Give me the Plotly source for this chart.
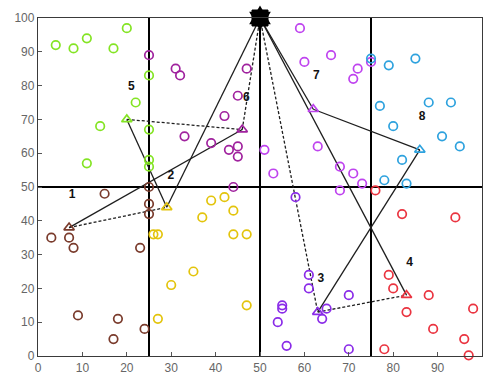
import plotly.graph_objects as go

# Sensor nodes per cluster (x, y)
c1_x = [15, 25, 25, 25, 3, 7, 8, 23, 9, 18, 24, 17]
c1_y = [48, 50, 45, 42, 35, 35, 32, 32, 12, 11, 8, 5]
c2_x = [39, 42, 44, 37, 26, 27, 44, 47, 35, 30, 47, 27]
c2_y = [46, 47, 43, 41, 36, 36, 36, 36, 25, 21, 15, 11]
c3_x = [58, 61, 61, 70, 55, 55, 65, 64, 54, 56, 70]
c3_y = [47, 24, 20, 18, 15, 14, 14, 11, 10, 3, 2]
c4_x = [76, 82, 94, 79, 80, 88, 83, 98, 89, 96, 78, 97]
c4_y = [49, 42, 41, 24, 20, 18, 13, 14, 8, 5, 2, 0.2]
c5_x = [4, 8, 11, 17, 20, 25, 22, 14, 11, 25, 25, 25]
c5_y = [92, 91, 94, 91, 97, 83, 75, 68, 57, 67, 58, 56]
c6_x = [25, 31, 32, 47, 45, 42, 33, 39, 43, 45, 45, 44]
c6_y = [89, 85, 83, 85, 77, 71, 65, 63, 61, 62, 59, 50]
c7_x = [59, 60, 66, 72, 71, 75, 51, 53, 63, 68, 71, 73, 68]
c7_y = [97, 87, 89, 85, 82, 87, 61, 54, 62, 56, 54, 51, 49]
c8_x = [75, 79, 85, 77, 88, 93, 80, 91, 95, 82, 78, 83]
c8_y = [88, 86, 88, 74, 75, 75, 68, 65, 62, 58, 52, 51]

# Cluster heads 1..8
head_x = [7, 29, 63, 83, 20, 46, 62, 86]
head_y = [38, 44, 13, 18, 70, 67, 73, 61]
label_x = [7.7, 29.9, 63.7, 83.7, 21.0, 46.9, 62.7, 86.5]
label_y = [47.6, 53.3, 22.7, 27.6, 79.5, 76.4, 82.7, 70.8]
labels = ["1", "2", "3", "4", "5", "6", "7", "8"]

# Base station
sink_x = [50]
sink_y = [100]

# Routing links: (from, to, dashed); 0 = sink, 1..8 = cluster heads
links = [
    (0, 2, False), (0, 6, True), (0, 7, False), (0, 3, True), (0, 4, False),
    (1, 2, True), (1, 6, False), (5, 6, True), (5, 2, False),
    (7, 8, False), (8, 3, False), (3, 4, True),
]

colors = ["#7a3b2c", "#e3c40c", "#8a2be8", "#ea3440",
          "#84e424", "#a0229e", "#bf44ef", "#2ea2de"]
nodes_x = [c1_x, c2_x, c3_x, c4_x, c5_x, c6_x, c7_x, c8_x]
nodes_y = [c1_y, c2_y, c3_y, c4_y, c5_y, c6_y, c7_y, c8_y]

fig = go.Figure()


def pos(i):
    if i == 0:
        return sink_x[0], sink_y[0]
    return head_x[i - 1], head_y[i - 1]


for a, b, dashed in links:
    xa, ya = pos(a)
    xb, yb = pos(b)
    fig.add_trace(go.Scatter(
        x=[xa, xb], y=[ya, yb], mode="lines",
        line=dict(color="#1e1e1e", width=1.3, dash="3px,2px" if dashed else "solid"),
        hoverinfo="skip", showlegend=False))

for k in range(8):
    fig.add_trace(go.Scatter(
        x=nodes_x[k], y=nodes_y[k], mode="markers",
        marker=dict(symbol="circle-open", size=8.5, color=colors[k], line=dict(width=1.7)),
        cliponaxis=False, showlegend=False))
    fig.add_trace(go.Scatter(
        x=[head_x[k]], y=[head_y[k]], mode="markers",
        marker=dict(symbol="triangle-up-open", size=9, color=colors[k], line=dict(width=1.7)),
        cliponaxis=False, showlegend=False))

fig.add_trace(go.Scatter(
    x=sink_x, y=sink_y, mode="markers",
    marker=dict(symbol="square", size=16, color="black", line=dict(width=1, color="black")),
    cliponaxis=False, showlegend=False))
fig.add_trace(go.Scatter(
    x=sink_x, y=sink_y, mode="markers",
    marker=dict(symbol="hexagram", size=19, color="black"),
    cliponaxis=False, showlegend=False))

fig.add_trace(go.Scatter(
    x=label_x, y=label_y, mode="text", text=labels,
    textfont=dict(family="Liberation Sans, Arial", size=12, color="#111111"),
    texttemplate="<b>%{text}</b>", showlegend=False, cliponaxis=False))

# Grid partition lines
for gx in [25, 50, 75]:
    fig.add_shape(type="line", x0=gx, x1=gx, y0=0, y1=100,
                  line=dict(color="black", width=2), layer="below")
fig.add_shape(type="line", x0=0, x1=100, y0=50, y1=50,
              line=dict(color="black", width=2), layer="below")

axis_common = dict(
    range=[0, 100], dtick=10, showgrid=False, zeroline=False,
    showline=True, linecolor="#3a3a3a", linewidth=1.3, mirror=True,
    ticks="inside", ticklen=4, tickcolor="#555555",
    tickfont=dict(family="Liberation Sans, Arial", size=12, color="#666666"),
)

fig.update_layout(
    width=491, height=383,
    margin=dict(l=38, r=8, t=18, b=25),
    paper_bgcolor="white", plot_bgcolor="white",
    xaxis=axis_common, yaxis=axis_common,
)

fig.write_html("out.html")
